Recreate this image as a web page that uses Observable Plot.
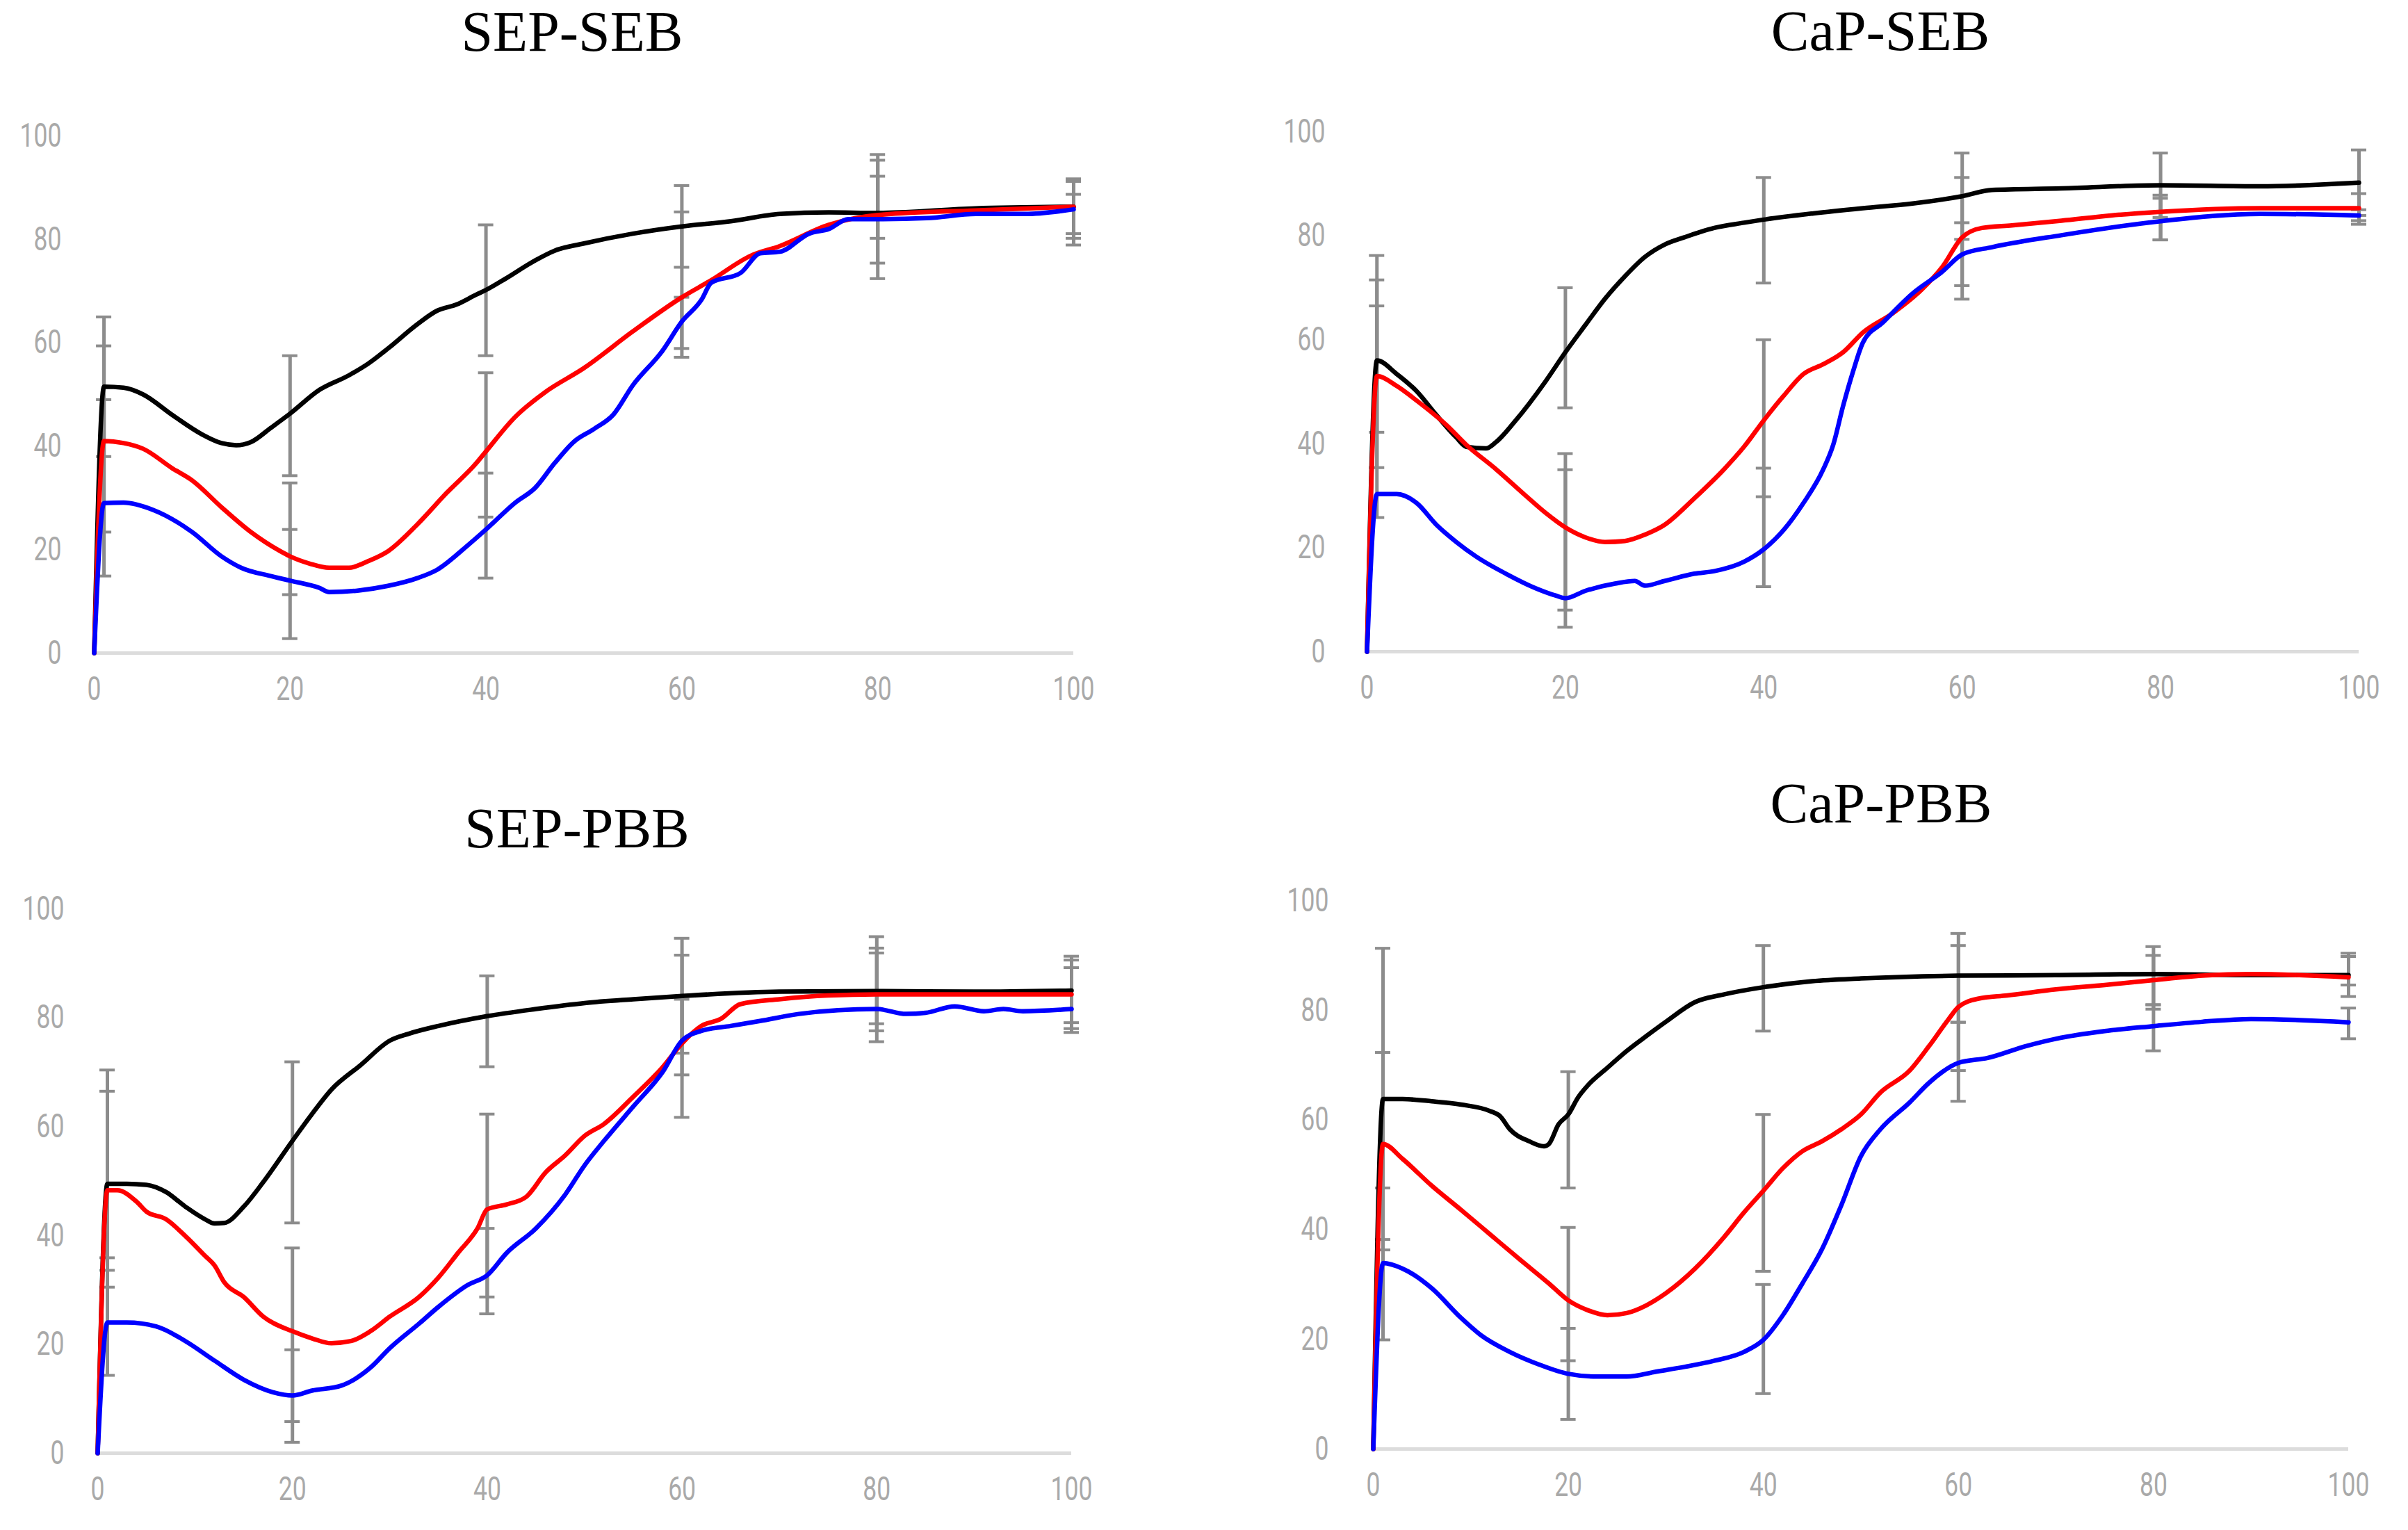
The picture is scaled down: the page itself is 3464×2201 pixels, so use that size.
<!DOCTYPE html>
<html>
<head>
<meta charset="utf-8">
<script src="https://cdn.jsdelivr.net/npm/d3@7"></script>
<script src="https://cdn.jsdelivr.net/npm/@observablehq/plot@0.6"></script>
<style>
  html, body { margin: 0; padding: 0; background: #ffffff; }
  #page { position: relative; width: 3464px; height: 2201px; background: #ffffff; overflow: hidden; }
  #page > svg, #page > div { position: absolute; }
</style>
</head>
<body>
<div id="page"></div>
<script>
// ---------- shared axis ticks ----------
const xTicks = [0, 20, 40, 60, 80, 100];
const yTicks = [0, 20, 40, 60, 80, 100];
const seriesNames = ["black", "red", "blue"];
const seriesColors = ["#262626", "#dc3038", "#1414b0"];
const titles = ["SEP-SEB", "CaP-SEB", "SEP-PBB", "CaP-PBB"];

// ---------- SEP-SEB ----------
const sepSebBlack = [[0,0],[1,51.5],[3,51.3],[5,50],[8,46],[11,42.3],[13,40.6],[14.5,40.2],[16,40.8],[18,43.5],[20,46.3],[23,50.9],[26,53.7],[28,56],[30,58.9],[33,63.6],[35,66.2],[37,67.4],[39,69.3],[40,70.2],[42,72.4],[45,75.9],[47,77.8],[50,79.2],[55,81.1],[60,82.5],[65,83.5],[70,84.9],[75,85.2],[80,85.1],[90,86],[100,86.3]];
const sepSebRed = [[0,0],[1,41],[3,40.6],[5,39.5],[8,35.7],[10,33.4],[13,28.2],[16,23.4],[19,19.7],[20,18.7],[22,17.3],[24,16.5],[26,16.5],[28,17.8],[30,19.7],[33,24.9],[36,31],[39,36.7],[40,39],[43,45.7],[46,50.4],[50,55.1],[55,62.2],[60,68.8],[63,72.1],[67,76.8],[70,78.7],[75,82.8],[80,84.7],[90,85.6],[100,86.3]];
const sepSebBlue = [[0,0],[1,29],[3,29.1],[6,27.7],[10,23.4],[13,18.7],[15,16.5],[18,14.9],[20,14],[23,12.6],[24,11.8],[27,12.1],[30,13],[33,14.5],[35,16.1],[38,20.6],[40,23.9],[43,29.1],[45,31.9],[47,36.7],[49,40.9],[51,43.3],[53,46.1],[55,51.8],[58,58.4],[60,64.1],[62,68.3],[63,71.6],[66,73.5],[68,77.3],[70,77.6],[73,81.1],[75,82],[77,83.9],[80,83.9],[85,84.1],[90,84.9],[95,84.9],[100,85.8]];
// error bars: [x, low, high] for black, red, blue
const sepSebErr = [
  [1,38,65],[1,23.4,59.4],[1,14.9,49],
  [20,34.3,57.5],[20,11.3,32.9],[20,2.8,23.9],
  [40,57.5,82.8],[40,26.3,54.2],[40,14.5,34.8],
  [60,74.6,90.4],[60,57.2,85.3],[60,58.9,68.8],
  [80,75.4,95.3],[80,72.4,96.4],[80,80.2,92.2],
  [100,80.2,91.7],[100,78.9,91.2],[100,81.1,88.7]
];

// ---------- CaP-SEB ----------
const capSebBlack = [[0,0],[1,56],[3,53.4],[5,50.1],[7,45.5],[9,41.2],[10,39.4],[12,39.1],[13,40.3],[15,44.5],[18,52],[20,57.6],[22,62.8],[24,67.9],[26,72.2],[28,75.9],[30,78.3],[32,79.7],[35,81.5],[38,82.5],[40,83.1],[45,84.3],[50,85.3],[55,86.2],[60,87.6],[63,88.8],[70,89.1],[80,89.7],[90,89.5],[100,90.2]];
const capSebRed = [[0,0],[1,53],[3,51.1],[5,48.3],[8,43.6],[10,39.8],[13,35.1],[16,30],[18,26.7],[20,23.9],[22,22],[24,21.1],[26,21.3],[28,22.5],[30,24.4],[33,29.5],[36,35.1],[38,39.4],[40,44.5],[42,49.2],[44,53.4],[46,55.3],[48,57.6],[50,61.4],[53,65.1],[56,69.8],[58,74],[60,79.7],[62,81.5],[65,82],[70,82.9],[75,83.9],[80,84.6],[90,85.3],[100,85.3]];
const capSebBlue = [[0,0],[1,30.3],[3,30.3],[5,28.6],[7,24.4],[9,21.1],[11,18.3],[14,15],[17,12.2],[19,10.8],[20,10.3],[22,11.7],[25,13.1],[27,13.6],[28,12.7],[30,13.6],[33,15],[35,15.5],[38,17.3],[40,19.7],[42,23.4],[44,28.6],[46,35.1],[47,39.8],[48,47.3],[49,53.9],[50,59.5],[52,63.3],[55,68.9],[58,73.1],[60,76.4],[63,77.8],[70,80.1],[80,82.8],[90,84.2],[100,83.9]];
const capSebErr = [
  [1,42.2,76.2],[1,35.4,71.5],[1,25.8,66.5],
  [20,46.9,70],[20,8,38.1],[20,4.7,35],
  [40,70.9,91.2],[40,29.8,60],[40,12.5,35.3],
  [60,79.3,95.9],[60,67.8,91.2],[60,70.4,82.5],
  [80,83.5,95.9],[80,79.2,87.8],[80,79.2,87.2],
  [100,83.9,96.5],[100,82.2,88.1],[100,82.9,85]
];

// ---------- SEP-PBB ----------
const sepPbbBlack = [[0,0],[1,49.5],[3,49.5],[5,49.3],[7,48],[9,45.3],[11,43],[12,42.2],[13,42.3],[15,45.3],[17,49.8],[20,57.4],[22,62.3],[24,66.8],[27,71.3],[30,75.8],[32,77.1],[35,78.5],[40,80.3],[45,81.6],[50,82.7],[55,83.4],[60,84],[70,84.8],[80,84.9],[90,84.8],[100,85]];
const sepPbbRed = [[0,0],[1,48.3],[2,48.3],[4,46.2],[5,44.4],[7,43],[9,39.9],[11,36.3],[12,34.5],[13,31.4],[15,28.7],[17,25.1],[20,22.4],[22,21.1],[24,20.2],[26,20.6],[28,22.4],[30,25.1],[33,28.7],[35,32.3],[37,36.8],[39,41.3],[40,44.8],[42,45.7],[44,47.1],[46,51.6],[48,54.7],[50,58.3],[52,60.5],[55,65.5],[58,70.9],[60,75.3],[62,78.5],[64,79.8],[66,82.5],[70,83.4],[75,84.1],[80,84.3],[90,84.3],[100,84.3]];
const sepPbbBlue = [[0,0],[1,24],[3,24],[6,23.3],[9,20.6],[12,17],[15,13.5],[18,11.2],[20,10.6],[22,11.5],[25,12.4],[28,15.7],[30,19.3],[33,23.8],[35,26.9],[38,30.9],[40,32.7],[42,36.8],[45,41.3],[48,47.5],[50,52.9],[52,57.4],[55,63.7],[58,70],[60,75.8],[62,77.6],[65,78.5],[68,79.4],[72,80.7],[76,81.4],[80,81.6],[83,80.7],[85,80.9],[88,82.1],[91,81.2],[93,81.6],[95,81.2],[100,81.6]];
const sepPbbErr = [
  [1,33.6,70.4],[1,30.5,66.5],[1,14.3,35.9],
  [20,42.3,71.9],[20,5.8,37.7],[20,2,19],
  [40,71,87.7],[40,28.7,62.3],[40,25.6,41.3],
  [60,73.5,94.6],[60,61.7,91.5],[60,69.5,83.4],
  [80,75.6,94.9],[80,77.6,92.8],[80,78.9,91.9],
  [100,79.1,91.3],[100,77.3,90.6],[100,78,89.2]
];

// ---------- CaP-PBB ----------
const capPbbBlack = [[0,0],[1,63.8],[3,63.8],[6,63.4],[9,62.8],[12,61.6],[13,60.7],[14,58.3],[16,56.1],[17.5,55.2],[18,55.6],[19,59.2],[20,61],[21,64.1],[22,66.3],[24,69.5],[26,72.6],[28,75.3],[30,77.9],[33,81.5],[36,82.9],[40,84.2],[45,85.3],[50,85.8],[60,86.3],[70,86.4],[80,86.6],[90,86.4],[100,86.4]];
const capPbbRed = [[0,0],[1,55.6],[3,52.9],[6,48],[9,43.6],[12,39.1],[15,34.6],[18,30.2],[20,27.1],[22,25.3],[24,24.4],[26,24.8],[28,26.2],[30,28.4],[33,32.9],[36,38.7],[38,43.1],[40,47.1],[42,51.2],[44,54.3],[46,56.1],[48,58.3],[50,61],[52,65],[55,69],[57,73.5],[59,78.4],[60,80.6],[62,82.1],[65,82.7],[70,83.8],[75,84.6],[80,85.5],[85,86.3],[90,86.6],[100,86]];
const capPbbBlue = [[0,0],[1,33.9],[3,32.9],[6,29.3],[9,23.9],[11,20.8],[14,17.7],[17,15.4],[20,13.7],[23,13.2],[26,13.2],[29,14.1],[32,15],[35,16.1],[38,17.7],[40,19.9],[42,24.4],[44,30.2],[46,36.4],[48,44.5],[50,53.4],[52,58.3],[55,63.2],[57,66.8],[60,70.4],[63,71.3],[67,73.5],[70,74.8],[75,76.2],[80,77.1],[85,77.9],[90,78.4],[100,77.8]];
const capPbbErr = [
  [1,36.3,91.3],[1,38.2,72.3],[1,19.9,47.6],
  [20,47.6,68.8],[20,16.1,40.4],[20,5.4,22],
  [40,76.2,91.8],[40,32.4,61],[40,10.1,30],
  [60,77.8,94],[60,69,91.8],[60,63.4,77.8],
  [80,81,91.6],[80,80.2,90],[80,72.6,81],
  [100,82.5,90.4],[100,84.6,89.8],[100,74.8,80.4]
];

// ---------- layout (page pixels of x=0, x=100, y=0, y=100) ----------
const panels = [
  {title: titles[0], lines: [sepSebBlack, sepSebRed, sepSebBlue], err: sepSebErr,
   x0: 135, x100: 1544, y0: 939, y100: 195, yPad: 47, tx: 823, ty: 73},
  {title: titles[1], lines: [capSebBlack, capSebRed, capSebBlue], err: capSebErr,
   x0: 1966, x100: 3393, y0: 937, y100: 189, yPad: 60, tx: 2705, ty: 72},
  {title: titles[2], lines: [sepPbbBlack, sepPbbRed, sepPbbBlue], err: sepPbbErr,
   x0: 140, x100: 1541, y0: 2090, y100: 1307, yPad: 48, tx: 830, ty: 1219},
  {title: titles[3], lines: [capPbbBlack, capPbbRed, capPbbBlue], err: capPbbErr,
   x0: 1975, x100: 3378, y0: 2084, y100: 1295, yPad: 64, tx: 2706, ty: 1183}
];

const page = document.getElementById("page");
const tickFont = "'Liberation Sans Narrow', 'Roboto', 'DejaVu Sans', sans-serif";
const errColor = "#8c8c8c";
const narrow = 0.74;   // horizontal squeeze of tick labels (reference font is condensed)

panels.forEach(p => {
  const mL = 160, mR = 40, mT = 30, mB = 100;
  const width = (p.x100 - p.x0) + mL + mR;
  const height = (p.y0 - p.y100) + mT + mB;
  const pxPerUnit = (p.x100 - p.x0) / 100;
  const capHalf = 11 / pxPerUnit;

  const rows = [];
  p.lines.forEach((pts, i) => pts.forEach(([x, y]) => rows.push({x, y, series: seriesNames[i]})));
  const bars = p.err.map(([x, lo, hi]) => ({x, lo, hi}));
  const caps = [];
  bars.forEach(b => { caps.push({x: b.x, v: b.lo}); caps.push({x: b.x, v: b.hi}); });

  const svg = Plot.plot({
    width, height,
    marginLeft: mL, marginRight: mR, marginTop: mT, marginBottom: mB,
    style: {background: "transparent", overflow: "visible"},
    x: {domain: [0, 100]},
    y: {domain: [0, 100]},
    color: {domain: seriesNames, range: seriesColors},
    marks: [
      Plot.axisX({ticks: xTicks, tickSize: 0, tickPadding: 33, label: null,
        fill: "#a9a9a9", fontSize: 48, fontFamily: tickFont}),
      Plot.axisY({ticks: yTicks, tickSize: 0, tickPadding: p.yPad, label: null,
        fill: "#a9a9a9", fontSize: 48, fontFamily: tickFont}),
      Plot.ruleY([0], {stroke: "#dcdcdc", strokeWidth: 5}),
      Plot.ruleX(bars, {x: "x", y1: "lo", y2: "hi", stroke: errColor, strokeWidth: 5}),
      Plot.ruleY(caps, {y: "v", x1: d => d.x - capHalf, x2: d => d.x + capHalf, stroke: errColor, strokeWidth: 4}),
      Plot.line(rows, {x: "x", y: "y", z: "series", stroke: "series", strokeWidth: 6.5,
        curve: "monotone-x", strokeLinejoin: "round", strokeLinecap: "round"})
    ]
  });
  svg.style.left = (p.x0 - mL) + "px";
  svg.style.top = (p.y100 - mT) + "px";
  page.appendChild(svg);

  // squeeze tick labels horizontally around their anchor
  svg.querySelectorAll("g[aria-label$='tick label'] text").forEach(t => {
    const bb = t.getBBox();
    const anchor = t.closest("g").getAttribute("text-anchor") || t.getAttribute("text-anchor") || "middle";
    const ax = anchor === "end" ? bb.x + bb.width : anchor === "start" ? bb.x : bb.x + bb.width / 2;
    const prev = t.getAttribute("transform") || "";
    t.setAttribute("transform", `${prev} translate(${ax},0) scale(${narrow},1) translate(${-ax},0)`);
  });
});

// titles
const ns = "http://www.w3.org/2000/svg";
const tsvg = document.createElementNS(ns, "svg");
tsvg.setAttribute("width", 3464);
tsvg.setAttribute("height", 2201);
tsvg.style.left = "0px"; tsvg.style.top = "0px"; tsvg.style.pointerEvents = "none";
panels.forEach(p => {
  const t = document.createElementNS(ns, "text");
  t.setAttribute("x", p.tx);
  t.setAttribute("y", p.ty);
  t.setAttribute("text-anchor", "middle");
  t.setAttribute("font-family", "'Liberation Serif', 'DejaVu Serif', serif");
  t.setAttribute("font-size", "82");
  t.setAttribute("fill", "#000");
  t.textContent = p.title;
  tsvg.appendChild(t);
});
page.appendChild(tsvg);
</script>
</body>
</html>
